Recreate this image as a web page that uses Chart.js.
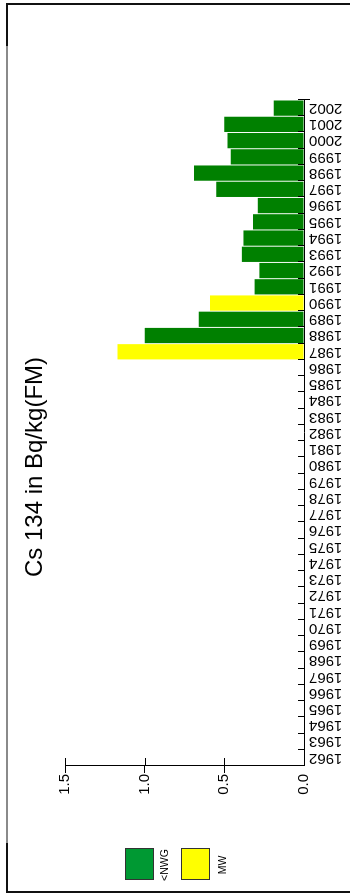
<!DOCTYPE html>
<html><head><meta charset="utf-8">
<script src="https://cdn.jsdelivr.net/npm/chart.js@4/dist/chart.umd.min.js"></script>
<style>
html,body{margin:0;padding:0;background:#fff;overflow:hidden;width:350px;height:896px;}
#wrap{position:absolute;left:0;top:0;width:896px;height:350px;transform-origin:0 0;transform:translateY(896px) rotate(-90deg);background:#fff;}
canvas{display:block;}
</style></head><body>
<div id="wrap"><canvas id="c" width="896" height="350"></canvas></div>
<script>
// ---- data ----
const years = ['1962','1963','1964','1965','1966','1967','1968','1969','1970','1971',
  '1972','1973','1974','1975','1976','1977','1978','1979','1980','1981',
  '1982','1983','1984','1985','1986','1987','1988','1989','1990','1991',
  '1992','1993','1994','1995','1996','1997','1998','1999','2000','2001','2002'];
const nwgValues = [null,null,null,null,null,null,null,null,null,null,
  null,null,null,null,null,null,null,null,null,null,
  null,null,null,null,null,null,1.00,0.66,null,0.31,
  0.28,0.39,0.38,0.32,0.29,0.55,0.69,0.46,0.48,0.50,0.19];
const mwValues = [null,null,null,null,null,null,null,null,null,null,
  null,null,null,null,null,null,null,null,null,null,
  null,null,null,null,null,1.17,null,null,0.59,null,
  null,null,null,null,null,null,null,null,null,null,null];
const valueTickLabels = ['0.0','0.5','1.0','1.5'];
const seriesNames = ['<NWG','MW'];
const titleText = 'Cs 134 in Bq/kg(FM)';

const FONT = '"Liberation Sans", Arial, sans-serif';
Chart.defaults.font.family = FONT;
Chart.defaults.color = '#000';

const legendColors = ['#009933', '#ffff00'];

const decor = {
  id: 'decor',
  afterDraw(chart) {
    const ctx = chart.ctx;
    const xs = chart.scales.x, ys = chart.scales.y;
    const ca = chart.chartArea;
    ctx.save();
    ctx.strokeStyle = '#000';
    ctx.lineWidth = 1;
    // inward category boundary ticks
    const half = (xs.getPixelForValue(1) - xs.getPixelForValue(0)) / 2;
    const n = xs.ticks.length;
    ctx.beginPath();
    for (let i = 1; i <= n; i++) {
      const X = Math.round(xs.getPixelForValue(i - 1) + half) + 0.5;
      const y2 = (i === n) ? ca.bottom + 6 : ca.bottom;
      ctx.moveTo(X, ca.bottom - 6);
      ctx.lineTo(X, y2);
    }
    // inward part of value ticks
    ys.ticks.forEach(t => {
      if (t.value === 0) return;
      const Y = Math.round(ys.getPixelForValue(t.value)) + 0.5;
      ctx.moveTo(ca.left, Y);
      ctx.lineTo(ca.left + 8, Y);
    });
    ctx.stroke();

    // title, sized to the reference width
    ctx.fillStyle = '#000';
    ctx.font = '24px ' + FONT;
    let w = ctx.measureText(titleText).width;
    let size = Math.min(24, 24 * 221 / w);
    ctx.font = size.toFixed(2) + 'px ' + FONT;
    ctx.textAlign = 'center';
    ctx.textBaseline = 'alphabetic';
    ctx.fillText(titleText, 429, 42);

    // legend
    const boxes = [{x:16, y:125}, {x:16, y:181}];
    const labY = [168, 226];
    chart.data.datasets.forEach((ds, i) => {
      const b = boxes[i];
      ctx.fillStyle = legendColors[i];
      ctx.fillRect(b.x, b.y, 32, 29);
      ctx.strokeStyle = '#333';
      ctx.lineWidth = 1;
      ctx.strokeRect(b.x + 0.5, b.y + 0.5, 31, 28);
      ctx.fillStyle = '#000';
      ctx.font = '10.5px ' + FONT;
      ctx.textAlign = 'center';
      ctx.fillText(ds.label, b.x + 15, labY[i]);
    });

    // frame
    ctx.lineWidth = 2;
    ctx.strokeStyle = '#111';
    ctx.beginPath();
    ctx.moveTo(4, 360); ctx.lineTo(4, 7);
    ctx.moveTo(892, 360); ctx.lineTo(892, 7);
    ctx.moveTo(3, 7); ctx.lineTo(53, 7);
    ctx.moveTo(850, 7); ctx.lineTo(893, 7);
    ctx.stroke();
    ctx.strokeStyle = '#8a8a8a';
    ctx.beginPath();
    ctx.moveTo(53, 7); ctx.lineTo(850, 7);
    ctx.stroke();
    ctx.restore();
  }
};

new Chart(document.getElementById('c'), {
  type: 'bar',
  data: {
    labels: years,
    datasets: [
      { label: seriesNames[0], data: nwgValues, backgroundColor: '#008000', borderWidth: 0,
        barPercentage: 0.94, categoryPercentage: 1, grouped: false },
      { label: seriesNames[1], data: mwValues, backgroundColor: '#ffff00', borderWidth: 0,
        barPercentage: 0.94, categoryPercentage: 1, grouped: false }
    ]
  },
  options: {
    responsive: false,
    devicePixelRatio: 1,
    animation: false,
    layout: { padding: { left: 0, right: 100, top: 65, bottom: 0 } },
    plugins: { legend: { display: false }, title: { display: false }, tooltip: { enabled: false } },
    scales: {
      x: {
        type: 'category',
        offset: true,
        grid: { display: true, drawOnChartArea: false, drawTicks: false, offset: true },
        border: { display: true, color: '#000', width: 1 },
        ticks: { autoSkip: false, minRotation: 90, maxRotation: 90, padding: 5, color: '#000',
                 font: { size: 15 } },
        afterFit(s) { s.height = 46; }
      },
      y: {
        min: 0, max: 1.5,
        ticks: { stepSize: 0.5, padding: 1, color: '#000', font: { size: 15 },
                 callback: (v) => valueTickLabels[Math.round(v / 0.5)] },
        grid: { drawOnChartArea: false, tickLength: 7,
                color: (c) => (c.tick && c.tick.value === 0) ? 'rgba(0,0,0,0)' : '#000' },
        border: { display: true, color: '#000', width: 1 },
        afterFit(s) { s.width = 130; }
      }
    }
  },
  plugins: [decor]
});
</script>
</body></html>
